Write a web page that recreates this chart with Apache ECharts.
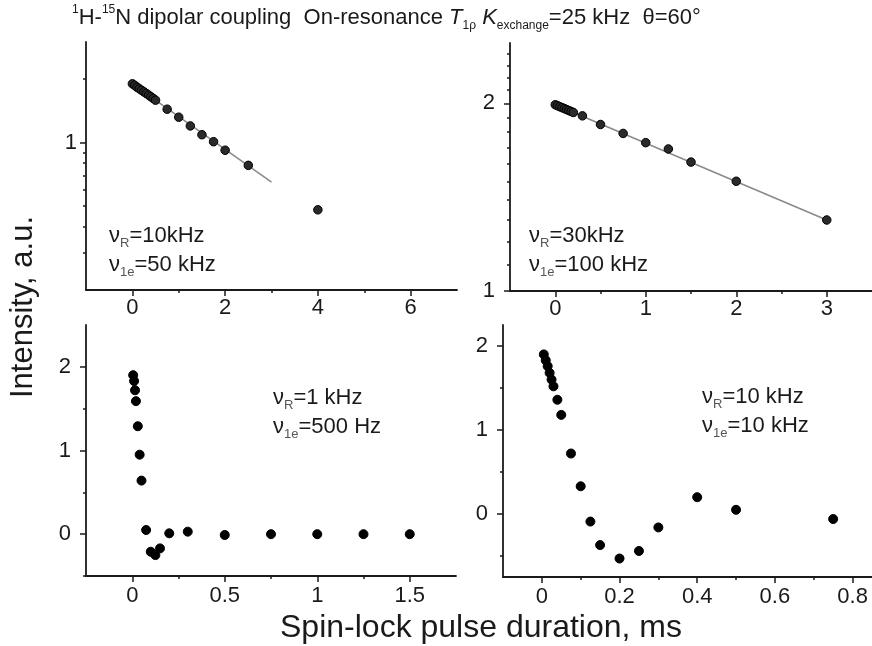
<!DOCTYPE html>
<html><head><meta charset="utf-8">
<script src="https://cdn.jsdelivr.net/npm/echarts@6/dist/echarts.min.js"></script>
<style>html,body{margin:0;padding:0;background:#fff}#c{width:872px;height:646px}</style>
</head><body><div id="c"></div>
<script>
// ---- data (times in ms, intensities in a.u.) ----
// top-left: nu_R = 10 kHz, nu_1e = 50 kHz (log y)
const tlX = [0, 0.05, 0.1, 0.15, 0.2, 0.25, 0.3, 0.35, 0.4, 0.45, 0.5, 0.75, 1, 1.25, 1.5, 1.75, 2, 2.5, 4];
const tlY = [1.90, 1.87, 1.83, 1.80, 1.77, 1.74, 1.71, 1.68, 1.65, 1.62, 1.59, 1.44, 1.32, 1.20, 1.09, 1.01, 0.92, 0.78, 0.48];
const tlFitX = [0, 3];
const tlFitY = [1.90, 0.65];
// top-right: nu_R = 30 kHz, nu_1e = 100 kHz (log y)
const trX = [0, 0.025, 0.05, 0.075, 0.1, 0.125, 0.15, 0.175, 0.2, 0.3, 0.5, 0.75, 1, 1.25, 1.5, 2, 3];
const trY = [1.99, 1.983, 1.976, 1.969, 1.962, 1.955, 1.948, 1.941, 1.934, 1.91, 1.85, 1.79, 1.73, 1.69, 1.61, 1.50, 1.30];
const trFitX = [0, 3];
const trFitY = [1.99, 1.30];
// bottom-left: nu_R = 1 kHz, nu_1e = 500 Hz
const blX = [0.005, 0.01, 0.015, 0.02, 0.03, 0.04, 0.05, 0.075, 0.1, 0.125, 0.15, 0.2, 0.3, 0.5, 0.75, 1, 1.25, 1.5];
const blY = [1.90, 1.83, 1.72, 1.59, 1.29, 0.95, 0.64, 0.05, -0.21, -0.25, -0.17, 0.01, 0.03, -0.01, 0.0, 0.0, 0.0, 0.0];
// bottom-right: nu_R = 10 kHz, nu_1e = 10 kHz
const brX = [0.005, 0.01, 0.015, 0.02, 0.025, 0.03, 0.04, 0.05, 0.075, 0.1, 0.125, 0.15, 0.2, 0.25, 0.3, 0.4, 0.5, 0.75];
const brY = [1.90, 1.83, 1.76, 1.68, 1.60, 1.52, 1.36, 1.18, 0.72, 0.33, -0.09, -0.37, -0.53, -0.44, -0.16, 0.20, 0.05, -0.06];

// ---- tick values ----
const tlXMajor = [0, 2, 4, 6];          const tlXMinor = [1, 3, 5];
const tlYMajor = [1];                   const tlYMinor = [0.3, 0.4, 0.5, 0.6, 0.7, 0.8, 0.9, 2];
const trXMajor = [0, 1, 2, 3];          const trXMinor = [0.5, 1.5, 2.5];
const trYMajor = [1, 2];                const trYMinor = [1.1, 1.2, 1.3, 1.4, 1.5, 1.6, 1.7, 1.8, 1.9, 2.1, 2.2, 2.3, 2.4];
const blXMajor = [0, 0.5, 1, 1.5];      const blXMinor = [0.25, 0.75, 1.25];
const blYMajor = [0, 1, 2];             const blYMinor = [-0.5, 0.5, 1.5];
const brXMajor = [0, 0.2, 0.4, 0.6, 0.8]; const brXMinor = [0.1, 0.3, 0.5, 0.7];
const brYMajor = [0, 1, 2];             const brYMinor = [-0.5, 0.5, 1.5];

const FONT = '"Liberation Sans", Arial, Helvetica, sans-serif';
const AX = '#1a1a1a';
const TXT = '#1a1a1a';

function mkAxis(dim, grid, type, min, max, ticks, major, margin) {
  const a = {
    type: type, gridIndex: grid, min: min, max: max,
    position: dim === 'x' ? 'bottom' : 'left', offset: 0,
    axisLine: { show: major, onZero: false, lineStyle: { color: AX, width: 1.8 } },
    axisTick: { show: true, inside: false, customValues: ticks, length: major ? 6 : 3, lineStyle: { color: AX, width: 1.5 } },
    axisLabel: { show: major, customValues: major ? ticks : undefined, margin: margin || 8, fontSize: 22, color: TXT, fontFamily: FONT,
      formatter: function (v) { return String(+(+v).toFixed(3)); } },
    splitLine: { show: false }, minorTick: { show: false }, minorSplitLine: { show: false }
  };
  if (type === 'log') a.logBase = 10;
  return a;
}

const grids = [
  { left: 86, top: 42, width: 371, height: 248 },
  { left: 510, top: 43, width: 369, height: 248 },
  { left: 86, top: 325, width: 370, height: 251 },
  { left: 503, top: 325, width: 372, height: 252 }
];

const xAxes = [
  mkAxis('x', 0, 'value', -1, 7, tlXMajor, true, 7), mkAxis('x', 0, 'value', -1, 7, tlXMinor, false),
  mkAxis('x', 1, 'value', -0.5, 3.5, trXMajor, true, 7), mkAxis('x', 1, 'value', -0.5, 3.5, trXMinor, false),
  mkAxis('x', 2, 'value', -0.25, 1.75, blXMajor, true, 9), mkAxis('x', 2, 'value', -0.25, 1.75, blXMinor, false),
  mkAxis('x', 3, 'value', -0.1, 0.85, brXMajor, true, 9), mkAxis('x', 3, 'value', -0.1, 0.85, brXMinor, false)
];
const yAxes = [
  mkAxis('y', 0, 'log', 0.2, 3, tlYMajor, true, 9), mkAxis('y', 0, 'log', 0.2, 3, tlYMinor, false),
  mkAxis('y', 1, 'log', 1, 2.5, trYMajor, true, 15), mkAxis('y', 1, 'log', 1, 2.5, trYMinor, false),
  mkAxis('y', 2, 'value', -0.5, 2.5, blYMajor, true, 15), mkAxis('y', 2, 'value', -0.5, 2.5, blYMinor, false),
  mkAxis('y', 3, 'value', -0.75, 2.25, brYMajor, true, 15), mkAxis('y', 3, 'value', -0.75, 2.25, brYMinor, false)
];

function zip(xs, ys) { return xs.map(function (x, i) { return [x, ys[i]]; }); }
function pts(xs, ys, k, fill, border, size) {
  return { type: 'scatter', xAxisIndex: 2 * k, yAxisIndex: 2 * k, data: zip(xs, ys), symbol: 'circle', symbolSize: size,
    itemStyle: { color: fill, borderColor: border, borderWidth: 1, opacity: 1 }, z: 3, silent: true };
}
function fit(xs, ys, k) {
  return { type: 'line', xAxisIndex: 2 * k, yAxisIndex: 2 * k, data: zip(xs, ys), showSymbol: false, symbol: 'none',
    lineStyle: { color: '#8a8a8a', width: 1.6 }, z: 2, silent: true };
}

function ann(x, y, l1a, l1b, l2a, l2b) {
  return {
    type: 'text', x: x, y: y, silent: true,
    style: {
      text: '{n|ν}{s|' + l1a + '}{n|' + l1b + '}\n{n|ν}{s|' + l2a + '}{n|' + l2b + '}',
      align: 'left', verticalAlign: 'top',
      rich: {
        n: { fontSize: 22, lineHeight: 29, fontFamily: FONT, fill: TXT },
        s: { fontSize: 13, lineHeight: 17, verticalAlign: 'bottom', fontFamily: FONT, fill: '#555' }
      }
    }
  };
}

const option = {
  backgroundColor: '#fff',
  animation: false,
  grid: grids,
  xAxis: xAxes,
  yAxis: yAxes,
  series: [
    fit(tlFitX, tlFitY, 0), pts(tlX, tlY, 0, '#2a2a2a', '#000', 8.5),
    fit(trFitX, trFitY, 1), pts(trX, trY, 1, '#2a2a2a', '#000', 8.5),
    pts(blX, blY, 2, '#000', '#000', 9),
    pts(brX, brY, 3, '#000', '#000', 9)
  ],
  graphic: [
    {
      type: 'text', x: 72, y: 4, silent: true,
      style: {
        text: '{p|1}{m|H-}{p|15}{m|N dipolar coupling  On-resonance }{i|T}{b|1ρ}{m| }{i|K}{b|exchange}{m|=25 kHz  θ=60°}',
        align: 'left', verticalAlign: 'top',
        rich: {
          m: { fontSize: 22, lineHeight: 28, fontFamily: FONT, fill: TXT },
          i: { fontSize: 22, lineHeight: 28, fontFamily: FONT, fontStyle: 'italic', fill: TXT },
          p: { fontSize: 12, lineHeight: 16, verticalAlign: 'top', fontFamily: FONT, fill: TXT },
          b: { fontSize: 12, lineHeight: 16, verticalAlign: 'bottom', fontFamily: FONT, fill: TXT }
        }
      }
    },
    ann(109, 221, 'R', '=10kHz', '1e', '=50 kHz'),
    ann(529, 221, 'R', '=30kHz', '1e', '=100 kHz'),
    ann(273, 383, 'R', '=1 kHz', '1e', '=500 Hz'),
    ann(702, 382, 'R', '=10 kHz', '1e', '=10 kHz'),
    {
      type: 'text', x: 23, y: 307, rotation: Math.PI / 2, silent: true,
      style: { text: 'Intensity, a.u.', fontSize: 31, fontFamily: FONT, fill: TXT, align: 'center', verticalAlign: 'middle' }
    },
    {
      type: 'text', x: 481, y: 628, silent: true,
      style: { text: 'Spin-lock pulse duration, ms', fontSize: 32, fontFamily: FONT, fill: TXT, align: 'center', verticalAlign: 'middle' }
    }
  ]
};
const chart = echarts.init(document.getElementById('c'), null, { renderer: 'canvas' });
chart.setOption(option);
</script>
</body></html>
